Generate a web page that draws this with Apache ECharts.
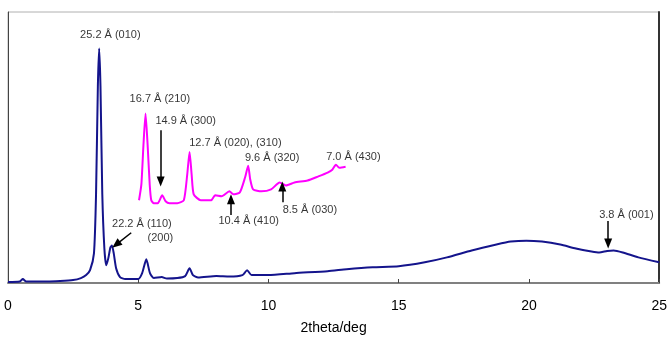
<!DOCTYPE html>
<html><head><meta charset="utf-8">
<script src="https://cdn.jsdelivr.net/npm/echarts@6/dist/echarts.min.js"></script>
<style>html,body{margin:0;padding:0;background:#fff}#c{width:670px;height:340px}</style>
</head><body><div id="c"></div>
<script>
// XRD pattern (2theta, intensity in arbitrary units)
const mainTheta = [0,0.45,0.57,0.7,1.5,2.0,2.5,2.8,3.0,3.15,3.3,3.38,3.45,3.5,3.55,3.62,3.7,3.77,3.85,3.93,3.99,4.06,4.15,4.3,4.5,5.0,5.15,5.31,5.45,5.6,5.9,6.1,6.5,6.8,6.97,7.1,7.3,8.0,8.5,9.0,9.18,9.35,9.6,10.0,11.0,12.27,13.0,14.0,15.0,16.0,16.85,17.8,18.75,19.3,19.9,20.5,21.2,21.8,22.4,22.7,23.0,23.25,23.6,24.2,25];
const mainInt   = [1,1.5,4,1.5,1.5,2,3,5,8,13,30,90,200,238,200,90,35,18,25,36,38,30,15,6,4,4,10,24,10,5,6,4.5,5,7,15,8,5.5,7,6.5,8,13,8,8,8,10,12,14,16,17,21,26,33,39,42,43,42,39,35,32,31,32.5,33,31,26,21];
// magnified inset 5-13 deg
const zoomTheta = [5.03,5.12,5.2,5.28,5.36,5.44,5.5,5.6,5.75,5.92,6.05,6.2,6.5,6.75,6.88,6.97,7.05,7.13,7.4,7.8,7.95,8.2,8.5,8.65,8.9,9.1,9.22,9.3,9.41,9.73,10.1,10.43,10.67,11.0,11.5,11.9,12.27,12.45,12.59,12.72,12.96];
const zoomInt   = [84,100,140,172,140,100,84,81,81,89,83,81,81,84,110,133,110,90,84,84,89,88,93,90,92,107,119,105,95,93,95,102,99,102,104,108,112,115,120,117,118];
const xTicks = [0,5,10,15,20,25];
// annotations: text, theta, intensity
const labelText  = ['25.2 Å (010)','16.7 Å (210)','14.9 Å (300)','12.7 Å (020), (310)','9.6 Å (320)','7.0 Å (430)','10.4 Å (410)','8.5 Å (030)','22.2 Å (110)','(200)','3.8 Å (001)'];
const labelTheta = [3.93,5.83,6.82,8.73,10.14,13.26,9.24,11.59,5.14,5.85,23.74];
const labelInt   = [252,187,164,142,127,128,63,74,60,46,69];
// arrows: [from theta, from int, to theta, to int]
const arrows = [[5.86,155,5.86,103],[8.56,69,8.56,85],[10.53,82,10.53,98],[4.73,51,4.15,39],[23.04,63,23.04,40]];

const chart = echarts.init(document.getElementById('c'));
const font = 'Liberation Sans, Arial, sans-serif';
chart.setOption({
  animation:false,
  grid:{left:8,right:6,top:12,bottom:53,show:true,borderColor:'#b0b0b0',borderWidth:1},
  xAxis:{type:'value',min:0,max:25,interval:5,
    axisLine:{lineStyle:{color:'#808080',width:2}},
    axisTick:{inside:true,length:4,lineStyle:{color:'#444'}},
    splitLine:{show:false},
    axisLabel:{color:'#000',fontSize:14,fontFamily:font,margin:16,formatter:v=>xTicks.includes(v)?String(v):''},
    name:'2theta/deg',nameLocation:'middle',nameGap:38,nameTextStyle:{color:'#000',fontSize:14,fontFamily:font}},
  yAxis:[{type:'value',min:0,max:275,axisLabel:{show:false},axisTick:{show:false},splitLine:{show:false},
    axisLine:{show:true,lineStyle:{color:'#444',width:1}}},
    {type:'value',min:0,max:275,position:'right',axisLabel:{show:false},axisTick:{show:false},splitLine:{show:false},
    axisLine:{show:true,lineStyle:{color:'#333',width:2}}}],
  series:[
    {type:'line',data:mainTheta.map((t,i)=>[t,mainInt[i]]),smooth:0.2,showSymbol:false,
     lineStyle:{color:'#14148c',width:2},
     markLine:{silent:true,symbol:['none','triangle'],symbolSize:[8,10],
       lineStyle:{color:'#000',width:1.5,type:'solid'},label:{show:false},
       data:arrows.map(a=>[{coord:[a[0],a[1]]},{coord:[a[2],a[3]]}])}},
    {type:'line',data:zoomTheta.map((t,i)=>[t,zoomInt[i]]),smooth:0.2,showSymbol:false,
     lineStyle:{color:'#ff00ff',width:2}},
    {type:'scatter',symbolSize:0,data:labelTheta.map((t,i)=>({value:[t,labelInt[i]],name:labelText[i]})),
     label:{show:true,position:'inside',formatter:p=>p.name,color:'#000',fontSize:11,fontFamily:font}}
  ]
});
</script></body></html>
